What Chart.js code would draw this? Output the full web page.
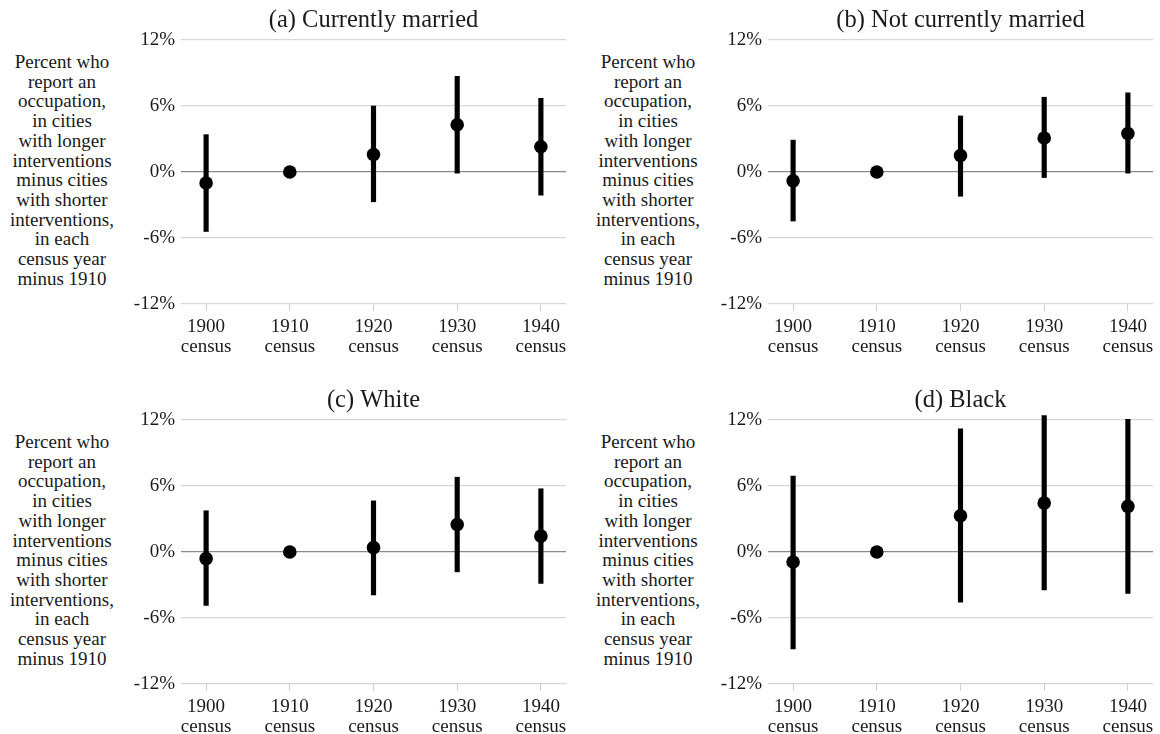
<!DOCTYPE html>
<html>
<head>
<meta charset="utf-8">
<script src="https://cdn.jsdelivr.net/npm/chart.js@4"></script>
<style>
    body { margin: 0; background: #fff; }
    #wrap { position: relative; width: 1160px; height: 734px; }
    canvas { position: absolute; }
    .ylab {
        position: absolute;
        width: 130px;
        text-align: center;
        font-family: "Liberation Serif", "Times New Roman", serif;
        font-size: 19px;
        line-height: 19.7px;
        color: #1a1a1a;
    }
</style>
</head>
<body>
<div id="wrap">
    <div class="ylab" style="left:-3px; top:52px;">Percent who<br>report an<br>occupation,<br>in cities<br>with longer<br>interventions<br>minus cities<br>with shorter<br>interventions,<br>in each<br>census year<br>minus 1910</div>
    <div class="ylab" style="left:583px; top:52px;">Percent who<br>report an<br>occupation,<br>in cities<br>with longer<br>interventions<br>minus cities<br>with shorter<br>interventions,<br>in each<br>census year<br>minus 1910</div>
    <div class="ylab" style="left:-3px; top:432px;">Percent who<br>report an<br>occupation,<br>in cities<br>with longer<br>interventions<br>minus cities<br>with shorter<br>interventions,<br>in each<br>census year<br>minus 1910</div>
    <div class="ylab" style="left:583px; top:432px;">Percent who<br>report an<br>occupation,<br>in cities<br>with longer<br>interventions<br>minus cities<br>with shorter<br>interventions,<br>in each<br>census year<br>minus 1910</div>

    <canvas id="chartA" width="444" height="380" style="left:131px; top:0px;"></canvas>
    <canvas id="chartB" width="444" height="380" style="left:718px; top:0px;"></canvas>
    <canvas id="chartC" width="444" height="380" style="left:131px; top:380px;"></canvas>
    <canvas id="chartD" width="444" height="380" style="left:718px; top:380px;"></canvas>
</div>

<script>
// Годы переписей
const years = [1900, 1910, 1920, 1930, 1940];
const yTicks = [-12, -6, 0, 6, 12];

// (a) Currently married
const estA = [-1.0, 0, 1.6, 4.3, 2.3];
const loA = [-5.4, null, -2.7, -0.1, -2.1];
const hiA = [3.4, null, 6.0, 8.7, 6.7];

// (b) Not currently married
const estB = [-0.8, 0, 1.5, 3.1, 3.5];
const loB = [-4.45, null, -2.2, -0.5, -0.1];
const hiB = [2.9, null, 5.1, 6.8, 7.2];

// (c) White
const estC = [-0.6, 0, 0.4, 2.5, 1.45];
const loC = [-4.85, null, -3.9, -1.8, -2.85];
const hiC = [3.75, null, 4.65, 6.8, 5.75];

// (d) Black
const estD = [-0.9, 0, 3.3, 4.45, 4.15];
const loD = [-8.8, null, -4.55, -3.45, -3.75];
const hiD = [6.9, null, 11.2, 12.4, 12.05];

const serif = '"Liberation Serif", "Times New Roman", serif';

// Заголовок по центру области графика
const panelTitle = {
    id: 'panelTitle',
    afterDraw(chart, args, opts) {
        const ctx = chart.ctx;
        const area = chart.chartArea;
        ctx.save();
        ctx.font = '24.5px ' + serif;
        ctx.fillStyle = '#1a1a1a';
        ctx.textAlign = 'center';
        ctx.textBaseline = 'middle';
        ctx.fillText(opts.text, (area.left + area.right) / 2, 21);
        ctx.restore();
    }
};

function makeConfig(title, est, lo, hi) {
    const points = years.map((x, i) => ({ x: x, y: est[i] }));
    const bars = [];
    years.forEach((x, i) => {
        if (lo[i] !== null) bars.push({ x: x, y: [lo[i], hi[i]] });
    });

    return {
        type: 'bar',
        data: {
            datasets: [
                {
                    type: 'scatter',
                    data: points,
                    pointRadius: 6.8,
                    pointBackgroundColor: '#000',
                    pointBorderWidth: 0,
                    clip: false
                },
                {
                    type: 'bar',
                    data: bars,
                    backgroundColor: '#000',
                    barThickness: 4.5,
                    borderWidth: 0,
                    borderSkipped: false,
                    clip: false
                }
            ]
        },
        options: {
            responsive: false,
            animation: false,
            devicePixelRatio: 1,
            layout: { padding: { top: 40, bottom: 17, left: 0, right: 9 } },
            plugins: {
                legend: { display: false },
                tooltip: { enabled: false },
                panelTitle: { text: title }
            },
            scales: {
                x: {
                    type: 'linear',
                    min: 1897,
                    max: 1943,
                    offset: false,
                    afterBuildTicks: (scale) => {
                        scale.ticks = years.map(v => ({ value: v }));
                    },
                    grid: {
                        offset: false,
                        drawOnChartArea: false,
                        drawTicks: true,
                        tickLength: 7,
                        color: '#cfcfcf',
                        lineWidth: 1
                    },
                    border: { display: false },
                    ticks: {
                        padding: 6,
                        maxRotation: 0,
                        autoSkip: false,
                        color: '#1a1a1a',
                        font: { family: serif, size: 19, lineHeight: 1.05 },
                        callback: (v) => [String(v), 'census']
                    }
                },
                y: {
                    min: -12,
                    max: 12,
                    afterBuildTicks: (scale) => {
                        scale.ticks = yTicks.map(v => ({ value: v }));
                    },
                    afterFit: (scale) => { scale.width = 50; },
                    grid: {
                        drawTicks: false,
                        color: (c) => c.tick.value === 0 ? '#8a8a8a' : '#d6d6d6',
                        lineWidth: 1.3
                    },
                    border: { display: false },
                    ticks: {
                        padding: 6,
                        color: '#1a1a1a',
                        font: { family: serif, size: 19 },
                        callback: (v) => v + '%'
                    }
                }
            }
        },
        plugins: [panelTitle]
    };
}

new Chart(document.getElementById('chartA'), makeConfig('(a) Currently married', estA, loA, hiA));
new Chart(document.getElementById('chartB'), makeConfig('(b) Not currently married', estB, loB, hiB));
new Chart(document.getElementById('chartC'), makeConfig('(c) White', estC, loC, hiC));
new Chart(document.getElementById('chartD'), makeConfig('(d) Black', estD, loD, hiD));
</script>
</body>
</html>
